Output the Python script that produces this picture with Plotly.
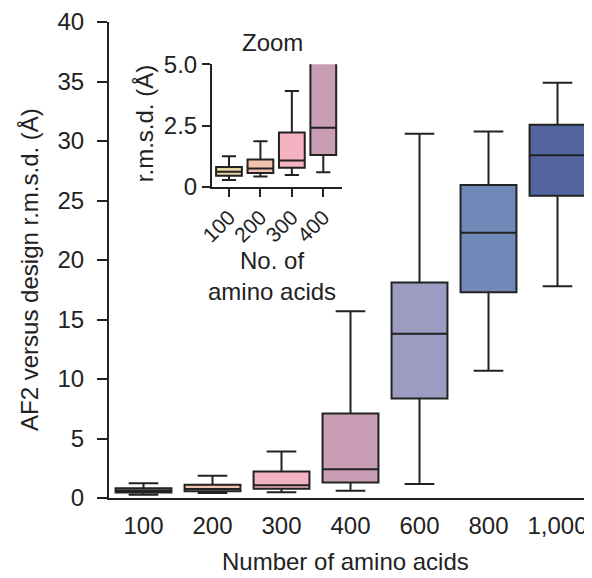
import plotly.graph_objects as go

# ---- data ----
categories = ["100", "200", "300", "400", "600", "800", "1,000"]
lower_fence = [0.28, 0.42, 0.49, 0.60, 1.17, 10.7, 17.8]
q1_vals     = [0.46, 0.57, 0.78, 1.30, 8.36, 17.3, 25.4]
medians     = [0.62, 0.75, 1.08, 2.41, 13.8, 22.3, 28.8]
q3_vals     = [0.81, 1.12, 2.22, 7.10, 18.1, 26.3, 31.36]
upper_fence = [1.25, 1.86, 3.91, 15.7, 30.6, 30.8, 34.9]
box_colors  = ["#ead5a6", "#f2c3af", "#f3b3c0", "#c99db4", "#9c9bc1", "#7089b9", "#52659f"]

inset_categories = categories[:4]
main_ticks = [0, 5, 10, 15, 20, 25, 30, 35, 40]
inset_ticks = [0, 2.5, 5.0]
inset_ticktext = ["0", "2.5", "5.0"]

FONT = "Liberation Sans, Arial, sans-serif"
INK = "#222222"
FS = 24
FS_INSET_TICK = 21

# page body has an 8px margin, so the figure is 8px smaller than the window
OFF = 8
W, H = 592 - OFF, 578 - OFF
L, R, T, B = 101, 0, 10, 80
pw, ph = W - L - R, H - T - B


def px_to_paper_x(px):
    return (px - OFF - L) / pw


def px_to_paper_y(py):
    return (H - B - (py - OFF)) / ph


fig = go.Figure()

for i, cat in enumerate(categories):
    fig.add_trace(go.Box(
        x=[cat], q1=[q1_vals[i]], median=[medians[i]], q3=[q3_vals[i]],
        lowerfence=[lower_fence[i]], upperfence=[upper_fence[i]],
        fillcolor=box_colors[i], line=dict(color=INK, width=2),
        width=0.81, whiskerwidth=0.53, boxpoints=False,
        showlegend=False, hoverinfo="skip", xaxis="x", yaxis="y",
    ))

for i, cat in enumerate(inset_categories):
    fig.add_trace(go.Box(
        x=[cat], q1=[q1_vals[i]], median=[medians[i]], q3=[q3_vals[i]],
        lowerfence=[lower_fence[i]], upperfence=[upper_fence[i]],
        fillcolor=box_colors[i], line=dict(color=INK, width=2),
        width=0.82, whiskerwidth=0.55, boxpoints=False,
        showlegend=False, hoverinfo="skip", xaxis="x2", yaxis="y2",
    ))

inset_x0, inset_x1 = px_to_paper_x(212), px_to_paper_x(342)
inset_y0, inset_y1 = px_to_paper_y(184.3), px_to_paper_y(60.7)

fig.update_layout(
    width=W, height=H,
    margin=dict(l=L, r=R, t=T, b=B),
    paper_bgcolor="white", plot_bgcolor="white",
    font=dict(family=FONT, size=FS, color=INK),
    boxmode="overlay",
    xaxis=dict(
        type="category", categoryorder="array", categoryarray=categories,
        range=[-0.5, 6.5], showline=True, linecolor=INK, linewidth=2,
        ticks="", showgrid=False, zeroline=False, ticklabelstandoff=5,
        tickfont=dict(size=FS, color=INK),
    ),
    yaxis=dict(
        range=[0, 40], tickvals=main_ticks, showline=True, linecolor=INK,
        linewidth=2, ticks="outside", ticklen=10, tickwidth=2, tickcolor=INK,
        showgrid=False, zeroline=False, ticklabelstandoff=8,
        tickfont=dict(size=FS, color=INK),
    ),
    xaxis2=dict(
        type="category", categoryorder="array", categoryarray=inset_categories,
        range=[-0.54, 3.595], domain=[inset_x0, inset_x1], anchor="y2",
        showline=True, linecolor=INK, linewidth=2, ticks="outside",
        ticklen=8, tickwidth=2, tickcolor=INK, tickangle=-45,
        showgrid=False, zeroline=False,
        tickfont=dict(size=FS_INSET_TICK, color=INK),
    ),
    yaxis2=dict(
        range=[0, 5], tickvals=inset_ticks, ticktext=inset_ticktext,
        domain=[inset_y0, inset_y1], anchor="x2",
        showline=True, linecolor=INK, linewidth=2, ticks="outside",
        ticklen=8, tickwidth=2, tickcolor=INK,
        showgrid=False, zeroline=False, tickfont=dict(size=FS, color=INK),
    ),
    annotations=[
        dict(text="AF2 versus design r.m.s.d. (Å)", xref="paper", yref="paper",
             x=px_to_paper_x(30), y=px_to_paper_y(268), textangle=-90,
             showarrow=False, xanchor="center", yanchor="middle",
             font=dict(size=FS, color=INK)),
        dict(text="Number of amino acids", xref="paper", yref="paper",
             x=px_to_paper_x(345), y=px_to_paper_y(562),
             showarrow=False, xanchor="center", yanchor="middle",
             font=dict(size=FS, color=INK)),
        dict(text="Zoom", xref="paper", yref="paper",
             x=px_to_paper_x(272), y=px_to_paper_y(39),
             showarrow=False, xanchor="center", yanchor="middle",
             font=dict(size=FS, color=INK)),
        dict(text="r.m.s.d. (Å)", xref="paper", yref="paper",
             x=px_to_paper_x(144), y=px_to_paper_y(121), textangle=-90,
             showarrow=False, xanchor="center", yanchor="middle",
             font=dict(size=FS, color=INK)),
        dict(text="No. of<br>amino acids", xref="paper", yref="paper",
             x=px_to_paper_x(272), y=px_to_paper_y(274),
             showarrow=False, xanchor="center", yanchor="middle",
             font=dict(size=FS, color=INK)),
    ],
)

fig.write_html("out.html")
